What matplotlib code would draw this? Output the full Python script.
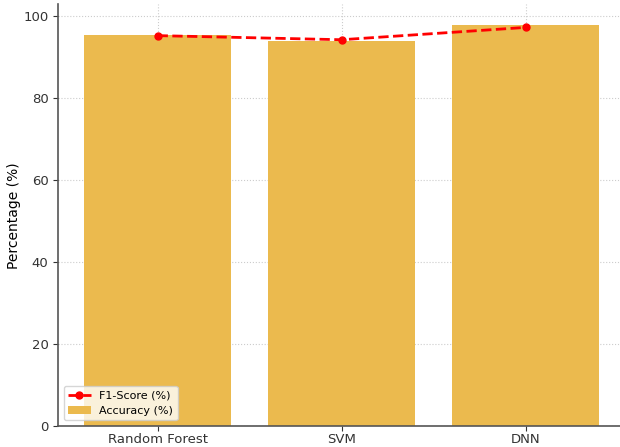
import numpy as np
import matplotlib.pyplot as plt

models = ['Random Forest', 'SVM', 'DNN']
accuracy = [95.3, 93.7, 97.8]
f1_score = [95.1, 94.1, 97.1]

x = np.arange(len(models))

fig, ax = plt.subplots(figsize=(6.2, 4.47), dpi=100)
fig.subplots_adjust(left=0.094, right=1.008, bottom=0.047, top=0.99)

ax.bar(x, accuracy, width=0.8, color='#ebba4e', label='Accuracy (%)', zorder=2)
ax.plot(x, f1_score, color='red', linestyle='--', marker='o', markersize=5,
        linewidth=2, label='F1-Score (%)', zorder=3)

ax.set_xticks(x)
ax.set_xticklabels(models, fontsize=9.5)
ax.set_ylabel('Percentage (%)', fontsize=10, labelpad=2)
ax.tick_params(colors='#333333', labelsize=9.5)
ax.tick_params(axis='x', pad=1.5)
ax.grid(True, linestyle=':', color='#cccccc', linewidth=0.8, zorder=0)
ax.set_axisbelow(True)

for s in ['top', 'right']:
    ax.spines[s].set_visible(False)
for s in ['left', 'bottom']:
    ax.spines[s].set_color('#555555')
    ax.spines[s].set_linewidth(1.2)

ax.legend(loc='lower left', fontsize=8)

plt.savefig('out.png')
